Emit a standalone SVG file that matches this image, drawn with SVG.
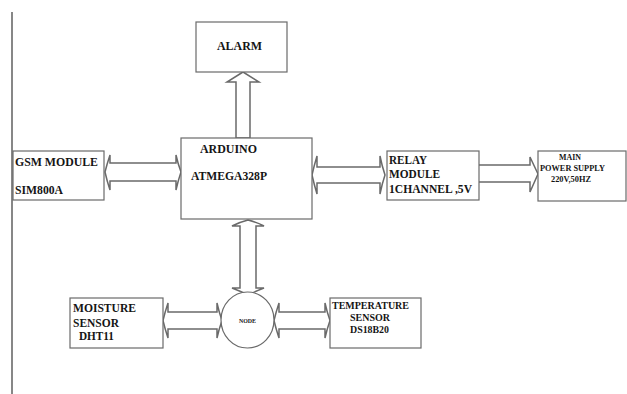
<svg xmlns="http://www.w3.org/2000/svg" width="627" height="394" viewBox="0 0 627 394">
<style>
.box{fill:#fff;stroke:#6a6a6a;stroke-width:1.2}
.arr{fill:#fff;stroke:#6a6a6a;stroke-width:1.5;stroke-linejoin:miter}
.t{font-family:"Liberation Serif","Times New Roman",serif;font-weight:bold;font-size:12.5px;fill:#151515}
.s{font-size:9px}
.m{font-size:10.5px}
</style>
<rect width="627" height="394" fill="#fff"/>
<line x1="12" y1="12" x2="12" y2="394" stroke="#7a7a7a" stroke-width="1.8"/>
<g id="connectors">
<path class="arr" d="M243,72 L259,82 L250,82 L250,138 L236,138 L236,82 L227,82 Z"/>
<path class="arr" d="M105,172 Q107,164 110,155 L110,163 L176,163 L176,155 Q178,164 181,172 Q178,181 176,190 L176,181 L110,181 L110,190 Q107,181 105,172 Z"/>
<path class="arr" d="M312,175 Q314,166 317,156 L317,167 L380,167 L380,156 Q382,166 385,175 Q382,184 380,194 L380,183 L317,183 L317,194 Q314,184 312,175 Z"/>
<path class="arr" d="M479,165 L530,165 L530,157 L538,174 L530,192 L530,182 L479,182"/>
<path class="arr" d="M248,220 Q240,222 232,226 L240,226 L240,288 L232,288 Q240,291 248,295 Q256,291 264,288 L256,288 L256,226 L264,226 Q256,222 248,220 Z"/>
<path class="arr" d="M163,320.5 Q165,312 168,303 L168,312 L217,312 L217,303 Q219,312 222,320.5 Q219,329 217,338 L217,329 L168,329 L168,338 Q165,329 163,320.5 Z"/>
<path class="arr" d="M274,320.5 Q276,312 279,303 L279,312 L325,312 L325,303 Q327,312 330,320.5 Q327,329 325,338 L325,329 L279,329 L279,338 Q276,329 274,320.5 Z"/>
</g>
<g id="alarm">
<rect class="box" x="196" y="22" width="91" height="50"/>
<text class="t" x="217" y="50" textLength="45" lengthAdjust="spacingAndGlyphs">ALARM</text>
</g>
<g id="arduino">
<rect class="box" x="181" y="138" width="131" height="81"/>
<text class="t" x="200" y="153" textLength="57" lengthAdjust="spacingAndGlyphs">ARDUINO</text>
<text class="t" x="191" y="180" textLength="76" lengthAdjust="spacingAndGlyphs">ATMEGA328P</text>
</g>
<g id="gsm">
<rect class="box" x="13" y="151" width="91" height="49"/>
<text class="t" x="15" y="166" textLength="83" lengthAdjust="spacingAndGlyphs">GSM MODULE</text>
<text class="t" x="15" y="194" textLength="48" lengthAdjust="spacingAndGlyphs">SIM800A</text>
</g>
<g id="relay">
<rect class="box" x="387" y="151" width="92" height="49"/>
<text class="t" x="389" y="164" textLength="38" lengthAdjust="spacingAndGlyphs">RELAY</text>
<text class="t" x="389" y="178" textLength="51" lengthAdjust="spacingAndGlyphs">MODULE</text>
<text class="t" x="389" y="193" textLength="83" lengthAdjust="spacingAndGlyphs">1CHANNEL ,5V</text>
</g>
<g id="mainpower">
<rect class="box" x="538" y="151" width="88" height="50"/>
<text class="t s" x="559" y="160" textLength="22" lengthAdjust="spacingAndGlyphs">MAIN</text>
<text class="t s" x="540" y="171" textLength="65" lengthAdjust="spacingAndGlyphs">POWER SUPPLY</text>
<text class="t s" x="551" y="182" textLength="40" lengthAdjust="spacingAndGlyphs">220V,50HZ</text>
</g>
<g id="node">
<ellipse class="box" cx="247.5" cy="320" rx="26.5" ry="28"/>
<text class="t" x="247.5" y="323" text-anchor="middle" style="font-size:5.5px" textLength="17" lengthAdjust="spacingAndGlyphs">NODE</text>
</g>
<g id="moisture">
<rect class="box" x="70" y="298" width="93" height="50"/>
<text class="t" x="73" y="312" textLength="63" lengthAdjust="spacingAndGlyphs">MOISTURE</text>
<text class="t" x="73" y="327" textLength="46" lengthAdjust="spacingAndGlyphs">SENSOR</text>
<text class="t" x="79" y="340" textLength="35" lengthAdjust="spacingAndGlyphs">DHT11</text>
</g>
<g id="temperature">
<rect class="box" x="330" y="298" width="91" height="50"/>
<text class="t m" x="332" y="309" textLength="77" lengthAdjust="spacingAndGlyphs">TEMPERATURE</text>
<text class="t m" x="350" y="321" textLength="40" lengthAdjust="spacingAndGlyphs">SENSOR</text>
<text class="t m" x="350" y="333" textLength="39" lengthAdjust="spacingAndGlyphs">DS18B20</text>
</g>
</svg>
